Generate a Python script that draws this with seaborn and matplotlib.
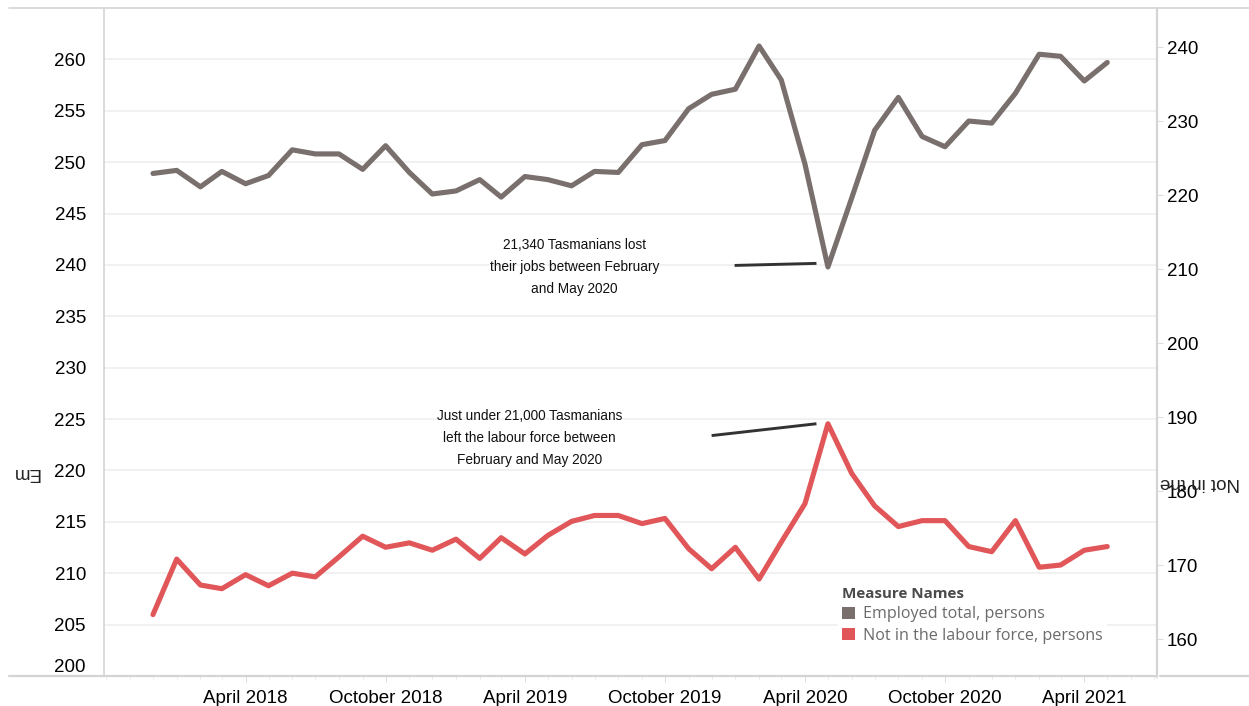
import matplotlib
matplotlib.use("Agg")
import matplotlib.pyplot as plt
import matplotlib.dates as mdates
from matplotlib.lines import Line2D
from matplotlib.patches import Patch
import numpy as np
import pandas as pd
import seaborn as sns

# ---------------- data ----------------
months = pd.date_range("2017-12-01", "2021-05-01", freq="MS")

employed = [
    248.9, 249.2, 247.6, 249.1, 247.9, 248.7, 251.2, 250.8, 250.8, 249.3, 251.6, 249.0,
    246.9, 247.2, 248.3, 246.6, 248.6, 248.3, 247.7, 249.1, 249.0, 251.7, 252.1, 255.2,
    256.6, 257.1, 261.3, 258.0, 249.8, 239.8, 246.5, 253.1, 256.3, 252.5, 251.5, 254.0,
    253.8, 256.7, 260.5, 260.3, 257.9, 259.7,
]
not_in_lf = [
    163.3, 170.8, 167.3, 166.8, 168.7, 167.2, 168.9, 168.4, 171.1, 173.9, 172.4, 173.0,
    172.0, 173.5, 170.9, 173.7, 171.5, 174.0, 175.9, 176.7, 176.7, 175.6, 176.3, 172.2,
    169.5, 172.4, 168.1, 173.1, 178.3, 189.1, 182.4, 178.0, 175.2, 176.0, 176.0, 172.5,
    171.8, 176.0, 169.7, 170.0, 172.0, 172.5,
]
series_names = ["Employed total, persons", "Not in the labour force, persons"]
left_ticks = list(range(200, 261, 5))
right_ticks = list(range(160, 241, 10))
x_ticks = pd.date_range("2018-04-01", "2021-04-01", freq="6MS")
note_jobs = "21,340 Tasmanians lost\ntheir jobs between February\nand May 2020"
note_lf = "Just under 21,000 Tasmanians\nleft the labour force between\nFebruary and May 2020"

df = pd.DataFrame({"month": months, "employed": employed, "nilf": not_in_lf})

# ---------------- style ----------------
sns.set_theme(style="white")
plt.rcParams["font.family"] = ["Liberation Sans", "DejaVu Sans"]

GREY = "#79706E"
RED = "#E15759"
GRID = "#efefef"
BORDER = "#d4d4d4"

W, H = 1249, 706
fig = plt.figure(figsize=(W / 100, H / 100), dpi=100)
ax = fig.add_axes([104 / W, (H - 676) / H, 1053 / W, 668 / H])
ax2 = ax.twinx()

sns.lineplot(data=df, x="month", y="employed", ax=ax, color=GREY, lw=3.7,
             solid_capstyle="round", solid_joinstyle="round")
sns.lineplot(data=df, x="month", y="nilf", ax=ax2, color=RED, lw=3.7,
             solid_capstyle="round", solid_joinstyle="round")

ax.set_xlim(pd.Timestamp("2017-09-28"), pd.Timestamp("2021-07-05"))
ax.set_ylim(200, 265)
ax2.set_ylim(155, 245.3)

ax.set_yticks(left_ticks)
ax2.set_yticks(right_ticks)
ax.set_xlabel("")
ax.set_ylabel("")
ax2.set_ylabel("")

for a in (ax, ax2):
    for s in a.spines.values():
        s.set_visible(False)

ax.yaxis.grid(True, color=GRID, lw=1.2)
ax.set_axisbelow(True)

ax.tick_params(axis="y", left=False, labelsize=13.5, pad=7, labelcolor="black")
ax2.tick_params(axis="y", right=True, length=4, width=0.8, color="#dddddd",
                labelsize=13.5, pad=3, labelcolor="black")
for lab in ax.get_yticklabels():
    if lab.get_text() == "200":
        lab.set_va("bottom")

ax.set_xticks(x_ticks)
ax.xaxis.set_major_formatter(mdates.DateFormatter("%B %Y"))
ax.xaxis.set_minor_locator(mdates.MonthLocator())
ax.tick_params(axis="x", which="major", bottom=True, length=4, width=0.8,
               color="#dddddd", labelsize=13.5, pad=6, labelcolor="black")
ax.tick_params(axis="x", which="minor", bottom=True, length=2.5, width=0.6,
               color="#e6e6e6")

# pane borders
fig.add_artist(Line2D([9 / W, 1], [1 - 8 / H, 1 - 8 / H], color=BORDER, lw=1.2))
fig.add_artist(Line2D([9 / W, 1155 / W], [1 - 676 / H, 1 - 676 / H], color=BORDER, lw=1.6))
fig.add_artist(Line2D([1160 / W, 1], [1 - 676 / H, 1 - 676 / H], color=BORDER, lw=1.6))
fig.add_artist(Line2D([104 / W, 104 / W], [1 - 676 / H, 1 - 8 / H], color=BORDER, lw=1.2))
fig.add_artist(Line2D([1157 / W, 1157 / W], [1 - 677 / H, 1 - 8 / H], color=BORDER, lw=1.6))

# truncated axis titles (upside down)
fig.text(25 / W, 1 - 472 / H, "Em", rotation=180, ha="center", va="center",
         fontsize=13.5, color="#222222")
fig.text(1200 / W, 1 - 483 / H, "Not in the", rotation=180, ha="center", va="center",
         fontsize=13.5, color="#222222")

# annotations
i_may = list(months).index(pd.Timestamp("2020-05-01"))
i_jan = list(months).index(pd.Timestamp("2020-01-01"))
i_dec = list(months).index(pd.Timestamp("2019-12-01"))
half = pd.Timedelta(days=15)

ax.text(0.447, 0.612, note_jobs, transform=ax.transAxes, ha="center", va="center",
        fontsize=9.8, linespacing=1.75, color="#111111")
ax.plot([months[i_jan] - pd.Timedelta(days=1), months[i_may] - half],
        [employed[i_may] + 0.15, employed[i_may] + 0.35],
        color="#333333", lw=2.1, solid_capstyle="butt")

ax2.text(0.404, 0.356, note_lf, transform=ax.transAxes, ha="center", va="center",
         fontsize=9.8, linespacing=1.75, color="#111111")
ax2.plot([months[i_dec], months[i_may] - half],
         [not_in_lf[i_may] - 1.6, not_in_lf[i_may]],
         color="#333333", lw=2.1, solid_capstyle="butt")

# legend
handles = [Patch(facecolor=GREY, edgecolor="none"), Patch(facecolor=RED, edgecolor="none")]
leg = fig.legend(handles, series_names, title="Measure Names", loc="upper left",
                 bbox_to_anchor=(830 / W, 1 - 575 / H), bbox_transform=fig.transFigure,
                 frameon=True, facecolor="white", edgecolor="none", framealpha=1,
                 fancybox=False, handlelength=0.8, handleheight=0.8,
                 handletextpad=0.5, labelspacing=0.33, borderpad=0.25,
                 prop={"family": "Open Sans", "size": 11.6})
leg.get_title().set_fontfamily("Open Sans")
leg.get_title().set_fontweight("bold")
leg.get_title().set_fontsize(10.9)
leg.get_title().set_color("#4a4a4a")
leg._legend_box.align = "left"
for t in leg.get_texts():
    t.set_color("#6b6b6b")

fig.savefig("out.png", dpi=100)
